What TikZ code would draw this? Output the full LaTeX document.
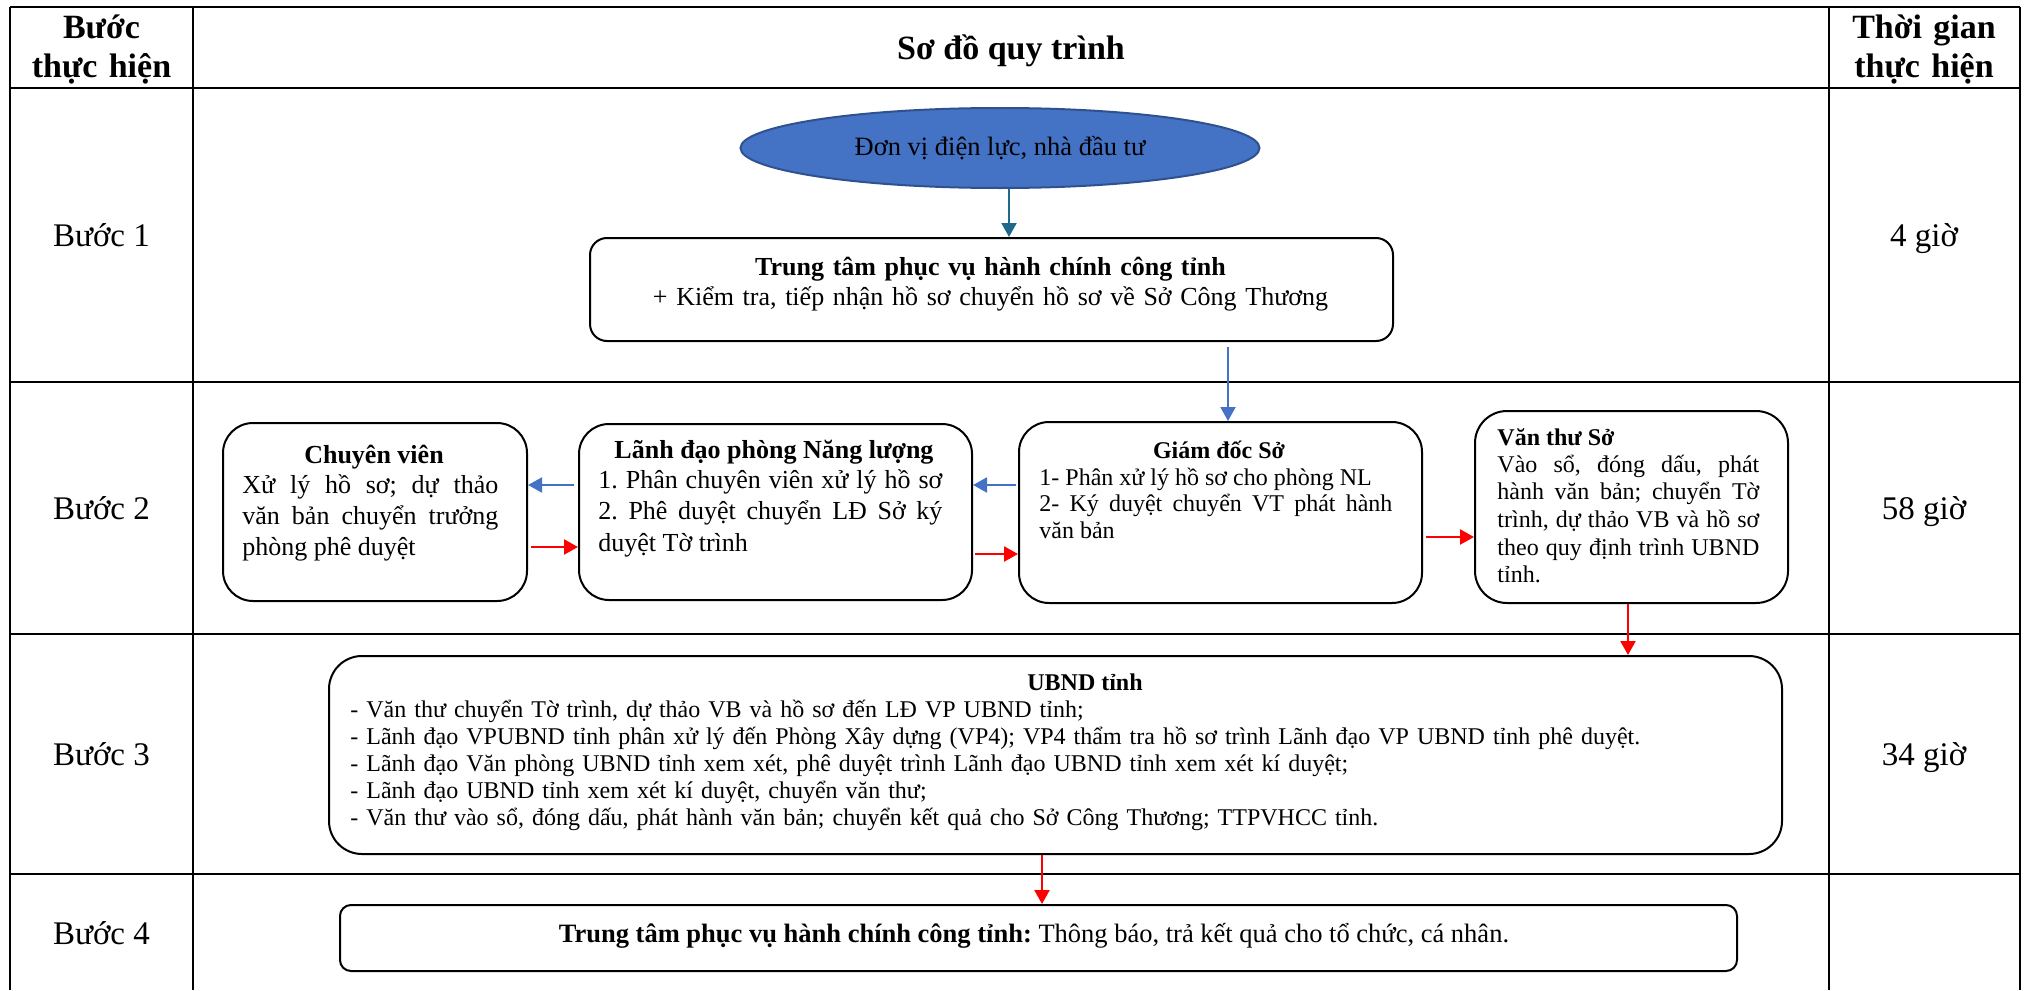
\documentclass[tikz,border=0pt]{standalone}
\usepackage{fontspec}
\setmainfont{Liberation Serif}
\usetikzlibrary{arrows.meta,shapes.geometric,calc}
\definecolor{ellfill}{HTML}{4472C4}
\definecolor{elldraw}{HTML}{2F528F}
\definecolor{arrblue}{HTML}{4472C4}
\definecolor{arrred}{HTML}{FF0000}
\definecolor{arrteal}{HTML}{1F6A8A}
\frenchspacing
\begin{document}
\begin{tikzpicture}[x=0.5pt,y=-0.5pt,
  grid/.style={line width=1.2pt,black},
  rbox/.style={draw=black,line width=1pt,anchor=north west,inner sep=0pt},
  hdr/.style={font=\fontsize{17}{19.5}\selectfont\bfseries,align=center,text width=92pt,anchor=base,inner sep=0pt},
  steplbl/.style={font=\fontsize{16.5}{19}\selectfont,anchor=base,inner sep=0pt},
  ttl/.style={anchor=base,inner sep=0pt},
  bodyA/.style={font=\fontsize{13}{15.5}\selectfont,align=justify,anchor=base west,inner sep=0pt},
  bodyB/.style={font=\fontsize{12}{13.3}\selectfont,align=justify,anchor=base west,inner sep=0pt},
  arrhead/.style={-{Triangle[length=7pt,width=7.5pt]}},
  bluearr/.style={arrhead,draw=arrblue,fill=arrblue,line width=1pt},
  redarr/.style={arrhead,draw=arrred,fill=arrred,line width=1.2pt},
  tealarr/.style={arrhead,draw=arrteal,fill=arrteal,line width=1pt}
]
\useasboundingbox (0,0) rectangle (2027,990);

% ---------- table ----------
\draw[grid] (10,7) -- (2020,7);
\draw[grid] (10,88) -- (2020,88);
\draw[grid] (10,382) -- (2020,382);
\draw[grid] (10,634) -- (2020,634);
\draw[grid] (10,874) -- (2020,874);
\draw[grid] (10,7) -- (10,990);
\draw[grid] (193,7) -- (193,990);
\draw[grid] (1829,7) -- (1829,990);
\draw[grid] (2020,7) -- (2020,990);

% headers
\node[hdr] (h1) at (101.5,39) {Bước\\thực hiện};
\node[ttl,font=\fontsize{17}{19.5}\selectfont\bfseries] (h2) at (1011,60) {Sơ đồ quy trình};
\node[hdr] (h3) at (1924,39) {Thời gian\\thực hiện};

% step labels
\node[steplbl] (s1) at (101.5,246) {Bước 1};
\node[steplbl] (s2) at (101.5,519) {Bước 2};
\node[steplbl] (s3) at (101.5,765) {Bước 3};
\node[steplbl] (s4) at (101.5,944) {Bước 4};
\node[steplbl] (t1) at (1924,246) {4 giờ};
\node[steplbl] (t2) at (1924,519) {58 giờ};
\node[steplbl] (t3) at (1924,765) {34 giờ};

% ---------- step 1 ----------
\node[ellipse,draw=elldraw,fill=ellfill,line width=1pt,minimum width=259.5pt,minimum height=40pt,inner sep=0pt,font=\fontsize{13.25}{15.5}\selectfont] (ell) at (1000,148) {Đơn vị điện lực, nhà đầu tư};

\node[rbox,rounded corners=8.5pt,minimum width=401.5pt,minimum height=51.5pt] (b1) at (589,237) {};
\node[ttl,font=\fontsize{13}{15}\selectfont,align=center,text width=395pt] (b1t) at (990.5,275)
  {\textbf{Trung tâm phục vụ hành chính công tỉnh}\\+ Kiểm tra, tiếp nhận hồ sơ chuyển hồ sơ về Sở Công Thương};

% ---------- step 2 ----------
\node[rbox,rounded corners=15pt,minimum width=152pt,minimum height=89pt] (cv) at (222,422) {};
\node[ttl,font=\fontsize{13}{16}\selectfont\bfseries] (cvt) at (374,463) {Chuyên viên};
\node[bodyA,text width=128pt] (cvb) at (242,493)
  {Xử lý hồ sơ; dự thảo\linebreak văn bản chuyển trưởng\linebreak phòng phê duyệt};

\node[rbox,rounded corners=15pt,minimum width=196.5pt,minimum height=88pt] (ld) at (578,423) {};
\node[ttl,font=\fontsize{13}{16}\selectfont\bfseries] (ldt) at (774,458) {Lãnh đạo phòng Năng lượng};
\node[bodyA,text width=172pt,font=\fontsize{13}{15.75}\selectfont] (ldb) at (598,488)
  {1. Phân chuyên viên xử lý hồ sơ\linebreak 2. Phê duyệt chuyển LĐ Sở ký\linebreak duyệt Tờ trình};

\node[rbox,rounded corners=15pt,minimum width=201.5pt,minimum height=90.5pt] (gd) at (1018,421) {};
\node[ttl,font=\fontsize{12}{13.3}\selectfont\bfseries] (gdt) at (1219,458) {Giám đốc Sở};
\node[bodyB,text width=176.5pt] (gdb) at (1039,485)
  {1- Phân xử lý hồ sơ cho phòng NL\par 2- Ký duyệt chuyển VT phát hành\linebreak văn bản};

\node[rbox,rounded corners=16pt,minimum width=156.5pt,minimum height=96pt] (vt) at (1474,410) {};
\node[ttl,anchor=base west,font=\fontsize{12}{13.3}\selectfont\bfseries] (vtt) at (1497,445) {Văn thư Sở};
\node[bodyB,text width=131pt,font=\fontsize{12}{13.85}\selectfont] (vtb) at (1497,472)
  {Vào sổ, đóng dấu, phát\linebreak hành văn bản; chuyển Tờ\linebreak trình, dự thảo VB và hồ sơ\linebreak theo quy định trình UBND\linebreak tỉnh.};

% ---------- step 3 ----------
\node[rbox,rounded corners=16.5pt,minimum width=726.5pt,minimum height=99pt] (ub) at (328,655) {};
\node[ttl,font=\fontsize{12}{13.5}\selectfont\bfseries] (ubt) at (1085,690) {UBND tỉnh};
\node[bodyB,align=left,text width=700pt,font=\fontsize{12}{13.5}\selectfont] (ubb) at (350,717)
  {- Văn thư chuyển Tờ trình, dự thảo VB và hồ sơ đến LĐ VP UBND tỉnh;\\
   - Lãnh đạo VPUBND tỉnh phân xử lý đến Phòng Xây dựng (VP4); VP4 thẩm tra hồ sơ trình Lãnh đạo VP UBND tỉnh phê duyệt.\\
   - Lãnh đạo Văn phòng UBND tỉnh xem xét, phê duyệt trình Lãnh đạo UBND tỉnh xem xét kí duyệt;\\
   - Lãnh đạo UBND tỉnh xem xét kí duyệt, chuyển văn thư;\\
   - Văn thư vào sổ, đóng dấu, phát hành văn bản; chuyển kết quả cho Sở Công Thương; TTPVHCC tỉnh.};

% ---------- step 4 ----------
\node[rbox,rounded corners=5.5pt,minimum width=698.5pt,minimum height=33pt] (b4) at (339,904) {};
\node[ttl,font=\fontsize{13.25}{15.5}\selectfont] (b4t) at (1034,942)
  {\textbf{Trung tâm phục vụ hành chính công tỉnh:} Thông báo, trả kết quả cho tổ chức, cá nhân.};

% ---------- connectors ----------
\draw[tealarr] ($(ell.south)+(9,0)$) -- ($(ell.south |- b1.north)+(9,0)$);
\draw[bluearr] ($(gd.north |- b1.south)+(7.5,5)$) -- ($(gd.north)+(7.5,0)$);
\draw[bluearr] ($(ld.west |- 0,485)+(-4,0)$) -- (cv.east |- 0,485);
\draw[redarr] ($(cv.east |- 0,547)+(3,0)$) -- (ld.west |- 0,547);
\draw[bluearr] ($(gd.west |- 0,485)+(-2,0)$) -- (ld.east |- 0,485);
\draw[redarr] ($(ld.east |- 0,554)+(2,0)$) -- (gd.west |- 0,554);
\draw[redarr] ($(gd.east |- 0,537)+(3,0)$) -- (vt.west |- 0,537);
\draw[redarr] (vt.south -| 1628,0) -- (ub.north -| 1628,0);
\draw[redarr] (ub.south -| 1042,0) -- (b4.north -| 1042,0);
\end{tikzpicture}
\end{document}
